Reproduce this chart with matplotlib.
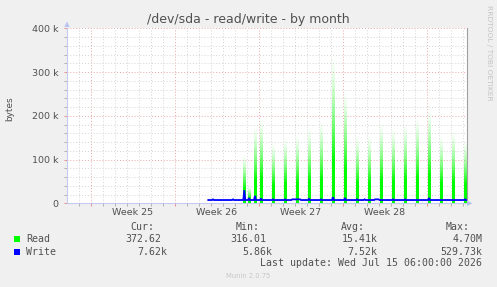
import numpy as np
import matplotlib
matplotlib.use("Agg")
import matplotlib.pyplot as plt
from matplotlib.patches import Polygon, Rectangle

W, H, DPI = 497, 287, 100

# ---------------- data (x in days since start of Week 25) ----------------
x_range = (-1.975, 31.36)
week_starts = [0, 7, 14, 21, 28]
week_labels = ["Week 25", "Week 26", "Week 27", "Week 28"]
y_ticks = [0, 100000, 200000, 300000, 400000]
y_tick_labels = ["0", "100 k", "200 k", "300 k", "400 k"]

read_spike_days = [12.80, 13.19, 13.69, 14.19, 15.19, 16.19, 17.19, 18.19, 19.19,
                   20.19, 21.19, 22.19, 23.19, 24.19, 25.19, 26.19, 27.19, 28.19,
                   29.19, 30.19, 31.19]
read_spike_peaks = [110e3, 38e3, 179e3, 198e3, 141e3, 152e3, 160e3, 175e3, 190e3,
                    342e3, 262e3, 156e3, 160e3, 186e3, 175e3, 183e3, 198e3, 220e3,
                    156e3, 167e3, 145e3]

write_start_day = 9.80
write_base = 7.5e3
write_bump_days = [10.19, 11.86, 12.80, 13.19, 13.69, 14.19, 15.19, 16.19, 18.19,
                   19.19, 20.19, 21.19, 22.19, 22.83, 25.19, 26.19, 28.19, 31.19]
write_bump_values = [9e3, 9e3, 30e3, 12e3, 17e3, 11e3, 9e3, 9e3, 10e3,
                     9e3, 14e3, 12e3, 9e3, 9e3, 9e3, 9e3, 12e3, 9e3]
write_plateaus = [(16.80, 17.45, 9e3), (23.70, 24.00, 9e3)]

legend_names = ["Read", "Write"]
legend_colors = ["#00ff00", "#0000ff"]
cur_vals = ["372.62", "7.62k"]
min_vals = ["316.01", "5.86k"]
avg_vals = ["15.41k", "7.52k"]
max_vals = ["4.70M", "529.73k"]

# ---------------- figure ----------------
def fx(x):
    return x / W

def fy(y):
    return 1 - y / H

TEXT = "#505050"
fig = plt.figure(figsize=(W / DPI, H / DPI), dpi=DPI, facecolor="#f0f0f0")
ax = fig.add_axes([fx(67), fy(203.3), 400 / W, 175 / H])
ax.set_facecolor("white")

# grid
ax.set_xticks(week_starts)
ax.set_xticks(np.arange(-1, 32), minor=True)
ax.set_yticks(y_ticks)
ax.set_yticks(np.arange(0, 400001, 20000), minor=True)
ax.grid(True, which="minor", color="#d4d4d4", lw=0.7, linestyle=(0, (1, 2)), zorder=0)
ax.grid(True, which="major", color="#e8a8a8", lw=0.7, linestyle=(0, (1, 2)), zorder=0)
ax.set_axisbelow(True)
ax.set_xticklabels([])
ax.set_yticklabels(y_tick_labels, fontsize=6.8, color=TEXT)
ax.tick_params(axis="both", which="major", length=2, width=0.7, color="#e89090", pad=4.3)
ax.tick_params(axis="both", which="minor", length=2, width=0.7, color="#b0b0b0")

for i, lab in enumerate(week_labels):
    mid = (week_starts[i] + week_starts[i + 1]) / 2
    ax.text(mid, -9.4 / 175, lab, transform=ax.get_xaxis_transform(),
            ha="center", va="center", fontsize=6.8, color=TEXT)

# Read spikes: narrow columns with a vertical fade (as rendered by rrdtool)
hw = 1.05 / 12.0
nrow = 200
f = np.linspace(1, 0, nrow)  # top row first
alpha = np.clip(1.4 * (1 - f), 0, 1) ** 1.5
grad = np.zeros((nrow, 1, 4))
grad[..., 1] = 1.0
grad[..., 3] = alpha[:, None]
for d, p in zip(read_spike_days, read_spike_peaks):
    ax.imshow(grad, extent=[d - hw, d + hw, 0, p], aspect="auto",
              interpolation="bilinear", zorder=3)

# Write line
pts = [(write_start_day, write_base)]
dd = 0.08
for d, v in zip(write_bump_days, write_bump_values):
    pts += [(d - dd, write_base), (d, v), (d + dd, write_base)]
for s, e, v in write_plateaus:
    pts += [(s - dd, write_base), (s, v), (e, v), (e + dd, write_base)]
pts.append((x_range[1], write_base))
pts.sort()
wx, wy = zip(*pts)
ax.plot(wx, wy, color="#0000ff", lw=1.3, zorder=4, solid_joinstyle="miter")

ax.set_xlim(*x_range)
ax.set_ylim(0, 400000)

# spines
ax.spines["top"].set_visible(False)
ax.spines["right"].set_color("#a0a0a0")
ax.spines["right"].set_linewidth(0.8)
ax.spines["left"].set_color("#c4cbee")
ax.spines["bottom"].set_color("#c4cbee")
ax.spines["left"].set_linewidth(0.8)
ax.spines["bottom"].set_linewidth(0.8)

# arrows
arrow_col = "#b8c2f0"
fig.patches.append(Polygon([(fx(64.3), fy(27)), (fx(69.7), fy(27)), (fx(67), fy(21.5))],
                           closed=True, transform=fig.transFigure, color=arrow_col, lw=0))
fig.patches.append(Polygon([(fx(467), fy(200.6)), (fx(467), fy(206)), (fx(472.5), fy(203.3))],
                           closed=True, transform=fig.transFigure, color=arrow_col, lw=0))

# titles / labels
fig.text(fx(248), fy(19.5), "/dev/sda - read/write - by month", ha="center", va="center",
         fontsize=9, color=TEXT)
fig.text(fx(10), fy(109), "bytes", rotation=90, ha="center", va="center",
         fontsize=6.4, color=TEXT)
fig.text(fx(488.5), fy(53), "RRDTOOL / TOBI OETIKER", rotation=270, ha="center",
         va="center", fontsize=5.4, color="#c4c4c4")
fig.text(fx(247.8), fy(276), "Munin 2.0.75", ha="center", va="center",
         fontsize=4.9, color="#c8c8c8")

# legend
mono = dict(family="DejaVu Sans Mono", fontsize=7.1, color=TEXT, va="center")
fig.text(fx(154.5), fy(227.3), "Cur:", ha="right", **mono)
fig.text(fx(260), fy(227.3), "Min:", ha="right", **mono)
fig.text(fx(365), fy(227.3), "Avg:", ha="right", **mono)
fig.text(fx(470), fy(227.3), "Max:", ha="right", **mono)

row_y = [239.3, 251.7]
col_right = [167, 272.3, 377.7, 482.7]
charw = 5.96
for i, name in enumerate(legend_names):
    y = row_y[i]
    fig.patches.append(Rectangle((fx(14), fy(y + 3)), 6 / W, 6 / H, transform=fig.transFigure,
                                 color=legend_colors[i], lw=0))
    fig.text(fx(26), fy(y), name, ha="left", **mono)
    for col, vals in zip(col_right, [cur_vals, min_vals, avg_vals, max_vals]):
        v = vals[i]
        xr = col if v[-1].isalpha() else col - charw
        fig.text(fx(xr), fy(y), v, ha="right", **mono)

fig.text(fx(482.5), fy(263.3), "Last update: Wed Jul 15 06:00:00 2026", ha="right", **mono)

fig.savefig("out.png", dpi=DPI, facecolor=fig.get_facecolor())
